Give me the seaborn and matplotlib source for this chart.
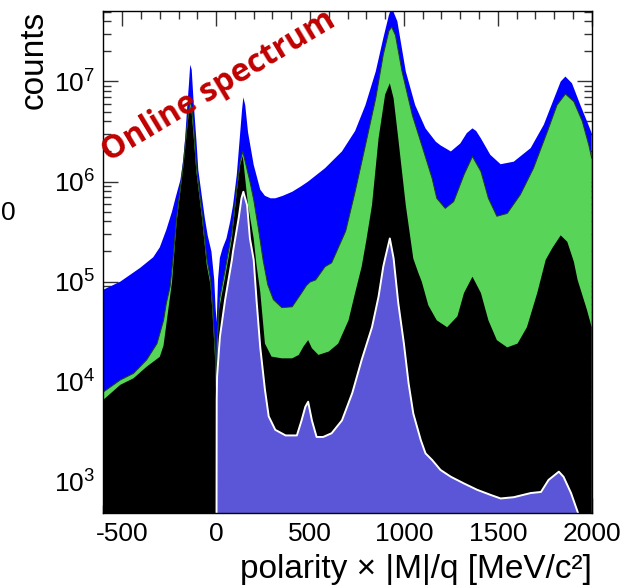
import matplotlib
matplotlib.use("Agg")
import matplotlib.pyplot as plt
import matplotlib.ticker as mticker
import seaborn as sns
import pandas as pd

# ---------------- data ----------------
blue_x = [-600, -510, -405, -335, -300, -265, -235, -215, -190, -175,
          -165, -155, -145, -138, -130, -120, -105, -95, -75, -60,
          -45, -25, -10, -3, 3, 10, 20, 35, 55, 75,
          90, 110, 125, 138, 145, 155, 170, 200, 235, 260,
          290, 315, 355, 405, 450, 490, 580, 670, 740, 795,
          850, 890, 920, 935, 965, 1010, 1060, 1115, 1170, 1195,
          1250, 1300, 1335, 1365, 1385, 1410, 1460, 1515, 1585, 1675,
          1745, 1800, 1835, 1860, 1895, 1940, 1975, 2000]
blue_y = [8.3e4, 1.0e5, 1.37e5, 1.75e5, 2.2e5, 3.3e5, 5.0e5, 7.0e5, 1.04e6, 1.65e6,
          2.7e6, 5.2e6, 9.3e6, 1.47e7, 1.31e7, 6.3e6, 2.6e6, 1.31e6, 6.9e5, 4.3e5,
          2.9e5, 2.0e5, 1.04e5, 5.5e4, 3.9e4, 1.04e5, 1.73e5, 2.17e5, 2.7e5, 4.0e5,
          5.8e5, 1.17e6, 2.6e6, 5.2e6, 6.95e6, 5.8e6, 3.1e6, 1.47e6, 8.3e5, 7.2e5,
          6.8e5, 6.8e5, 7.2e5, 7.9e5, 8.9e5, 1.0e6, 1.36e6, 2.0e6, 3.2e6, 5.8e6,
          1.26e7, 2.7e7, 4.6e7, 5.5e7, 4.0e7, 1.26e7, 5.8e6, 3.4e6, 2.5e6, 2.3e6,
          2.0e6, 2.4e6, 3.05e6, 3.4e6, 3.2e6, 2.7e6, 1.85e6, 1.49e6, 1.58e6, 2.16e6,
          3.7e6, 6.8e6, 1.0e7, 1.12e7, 9.6e6, 5.8e6, 4.0e6, 3.05e6]

green_x = [-600, -510, -440, -370, -315, -280, -265, -245, -230, -210,
           -175, -148, -139, -130, -120, -105, -75, -50, -30, -20,
           -5, 0, 5, 18, 48, 84, 110, 128, 142, 180,
           200, 225, 250, 275, 305, 350, 405, 455, 480, 500,
           530, 580, 615, 690, 740, 795, 850, 890, 920, 935,
           955, 990, 1045, 1100, 1150, 1175, 1220, 1265, 1320, 1365,
           1410, 1450, 1495, 1550, 1620, 1690, 1765, 1815, 1860, 1905,
           1950, 1985, 2000]
green_y = [7.9e3, 1.04e4, 1.21e4, 1.65e4, 2.4e4, 4.1e4, 6.1e4, 8.9e4, 1.65e5, 4.4e5,
           1.5e6, 4.8e6, 6.3e6, 5.5e6, 3.6e6, 1.4e6, 4.8e5, 1.7e5, 1.05e5, 6.0e4,
           2.0e4, 9.0e3, 2.5e4, 6.6e4, 1.31e5, 3.1e5, 8.6e5, 1.57e6, 2.0e6, 1.0e6,
           6.6e5, 3.4e5, 1.65e5, 9.3e4, 6.6e4, 5.5e4, 5.6e4, 7.7e4, 9.1e4, 9.9e4,
           1.04e5, 1.41e5, 1.54e5, 3.2e5, 7.9e5, 2.3e6, 6.8e6, 1.85e7, 3.2e7, 3.5e7,
           2.9e7, 1.26e7, 4.6e6, 2.16e6, 1.08e6, 6.8e5, 5.4e5, 6.3e5, 1.17e6, 1.78e6,
           1.26e6, 6.8e5, 4.5e5, 4.8e5, 7.4e5, 1.36e6, 3.2e6, 5.8e6, 7.5e6, 6.3e6,
           4.0e6, 2.3e6, 1.71e6]

black_x = [-600, -510, -440, -370, -300, -280, -263, -235, -210, -175,
           -148, -139, -130, -120, -105, -75, -50, -30, -20, -5,
           0, 5, 15, 48, 84, 110, 128, 142, 170, 200,
           215, 235, 260, 295, 350, 405, 440, 465, 490, 510,
           545, 600, 650, 705, 740, 775, 800, 830, 865, 900,
           925, 945, 970, 1010, 1050, 1075, 1095, 1130, 1175, 1230,
           1285, 1320, 1365, 1410, 1450, 1495, 1550, 1605, 1655, 1710,
           1755, 1790, 1835, 1870, 1905, 1925, 1975, 2000]
black_y = [6.6e3, 9.3e3, 1.08e4, 1.41e4, 1.77e4, 2.3e4, 4.0e4, 9.9e4, 4.0e5, 1.4e6,
           4.4e6, 5.7e6, 4.8e6, 2.9e6, 1.25e6, 4.3e5, 1.47e5, 9.3e4, 5.2e4, 1.65e4,
           7.4e3, 1.5e4, 5.2e4, 1.11e5, 2.7e5, 7.9e5, 1.47e6, 1.8e6, 5.8e5, 2.7e5,
           1.47e5, 7.9e4, 2.4e4, 1.78e4, 1.71e4, 1.71e4, 1.85e4, 2.24e4, 2.6e4, 2.16e4,
           1.85e4, 2.0e4, 2.4e4, 4.1e4, 7.7e4, 1.41e5, 2.6e5, 5.8e5, 2.7e6, 7.4e6,
           9.6e6, 6.8e6, 2.7e6, 5.8e5, 1.7e5, 1.25e5, 1.0e5, 5.8e4, 4.1e4, 3.5e4,
           4.5e4, 7.7e4, 1.12e5, 7.7e4, 4.1e4, 2.6e4, 2.2e4, 2.4e4, 3.5e4, 7.7e4,
           1.65e5, 2.16e5, 2.9e5, 2.5e5, 1.58e5, 1.04e5, 5.2e4, 3.5e4]

purple_x = [0, 3, 5, 20, 48, 75, 84, 90, 120, 135,
            145, 165, 180, 200, 215, 235, 260, 280, 315, 370,
            430, 455, 475, 490, 510, 535, 570, 615, 670, 725,
            775, 830, 865, 890, 900, 925, 945, 970, 1000, 1025,
            1050, 1090, 1115, 1150, 1195, 1250, 1320, 1390, 1460, 1515,
            1585, 1675, 1730, 1770, 1825, 1850, 1890, 1930, 1945]
purple_y = [1, 6.6e3, 1.12e4, 2.8e4, 6.6e4, 1.31e5, 1.65e5, 2.0e5, 4.3e5, 6.8e5,
            7.9e5, 5.8e5, 2.7e5, 1.65e5, 6.6e4, 2.2e4, 8.3e3, 4.5e3, 3.3e3, 2.9e3,
            2.9e3, 4.1e3, 5.6e3, 6.3e3, 4.1e3, 2.8e3, 2.8e3, 3.05e3, 4.1e3, 7.7e3,
            1.65e4, 3.5e4, 7.1e4, 1.41e5, 1.71e5, 2.7e5, 1.71e5, 6.1e4, 2.4e4, 9.6e3,
            4.8e3, 2.6e3, 1.92e3, 1.65e3, 1.31e3, 1.12e3, 960, 830, 740, 680,
            700, 770, 790, 1.04e3, 1.26e3, 1.12e3, 770, 470, 1]

x_ticks = [-500, 0, 500, 1000, 1500, 2000]
x_label = "polarity \u00d7 |M|/q [MeV/c\u00b2]"
y_label = "counts"
annotation = "Online spectrum"

# ---------------- style ----------------
sns.set_style("ticks")
plt.rcParams["font.family"] = ["Liberation Sans", "DejaVu Sans"]
plt.rcParams["mathtext.fontset"] = "custom"
plt.rcParams["mathtext.rm"] = "Liberation Sans"
plt.rcParams["mathtext.it"] = "Liberation Sans:italic"
plt.rcParams["mathtext.bf"] = "Liberation Sans:bold"
plt.rcParams["axes.unicode_minus"] = False
for key in ["text.color", "axes.labelcolor", "xtick.labelcolor", "ytick.labelcolor"]:
    plt.rcParams[key] = "black"

BLUE = "#0000ff"
GREEN = "#58d458"
BLACK = "#000000"
PURPLE = "#5b55d8"
RED = "#c00000"

fig = plt.figure(figsize=(6.27, 5.88), dpi=100)
ax = fig.add_axes([0.165, 0.127, 0.7787, 0.8548])

floor = 1.0
series = [
    (blue_x, blue_y, BLUE),
    (green_x, green_y, GREEN),
    (black_x, black_y, BLACK),
    (purple_x, purple_y, PURPLE),
]
for xs, ys, col in series:
    ax.fill_between(xs, floor, ys, color=col, linewidth=0, zorder=1)

# outlines
df_green = pd.DataFrame({"x": green_x, "y": green_y})
sns.lineplot(data=df_green, x="x", y="y", ax=ax, color="#1f3f1f", lw=0.7,
             sort=False, estimator=None, zorder=1.5)
df_purple = pd.DataFrame({"x": purple_x, "y": purple_y})
sns.lineplot(data=df_purple, x="x", y="y", ax=ax, color="white", lw=1.4,
             sort=False, estimator=None, zorder=1.6)

ax.set_yscale("log")
ax.set_xlim(-600, 2000)
ax.set_ylim(483, 5.1e7)

ax.xaxis.set_major_locator(mticker.FixedLocator(x_ticks))
ax.xaxis.set_minor_locator(mticker.MultipleLocator(100))
ax.yaxis.set_major_locator(mticker.LogLocator(base=10, numticks=20))
ax.yaxis.set_minor_locator(mticker.LogLocator(base=10, subs=range(2, 10), numticks=20))
ax.yaxis.set_minor_formatter(mticker.NullFormatter())

ax.tick_params(which="both", direction="in", top=True, right=True,
               labelsize=19, color="#333333", width=1)
ax.tick_params(which="major", length=10.8)
ax.tick_params(which="minor", length=5.8)
ax.tick_params(axis="x", pad=6)
ax.tick_params(axis="y", pad=6)
for sp in ax.spines.values():
    sp.set_color("black")
    sp.set_linewidth(1.0)
    sp.set_zorder(3)

ax.set_xlabel(x_label, fontsize=24, loc="right", labelpad=6)
ax.set_ylabel(y_label, fontsize=24, loc="top", labelpad=3)

ax.text(0.349, 0.853, annotation, transform=fig.transFigure, rotation=31,
        rotation_mode="anchor", ha="center", va="center", fontsize=23,
        fontweight="bold", color=RED, family=["Open Sans", "DejaVu Sans"], zorder=5)

# tick label of a neighbouring panel at the left edge
fig.text(0.5 / 627, 1 - 213 / 588, "0", ha="left", va="center", fontsize=19)

fig.savefig("out.png", dpi=100)
